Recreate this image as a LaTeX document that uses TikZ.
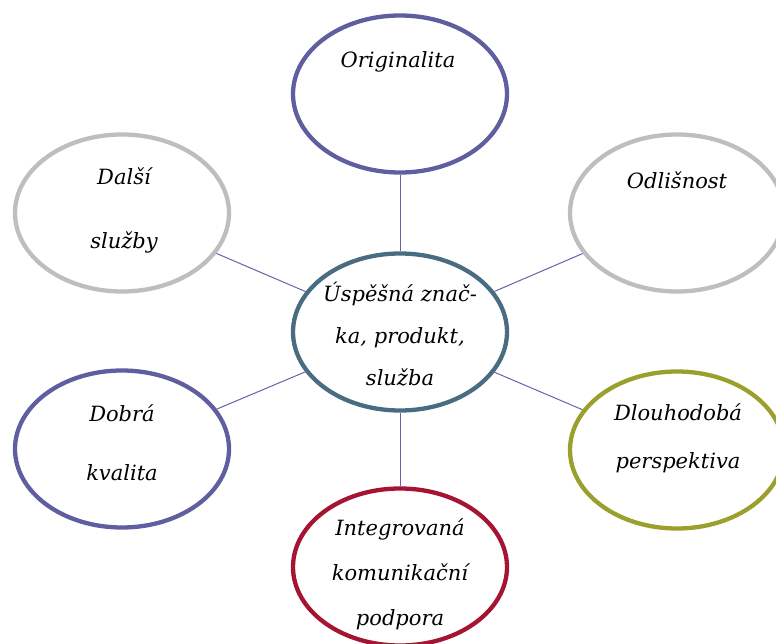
\documentclass[tikz,border=0pt]{standalone}
\usepackage{fontspec}
\setmainfont{DejaVu Serif}
\usetikzlibrary{shapes.geometric}
\definecolor{cpurple}{RGB}{94,94,160}
\definecolor{cslate}{RGB}{74,108,130}
\definecolor{ccrimson}{RGB}{165,20,50}
\definecolor{cgray}{RGB}{190,190,190}
\definecolor{colive}{RGB}{155,160,45}
\definecolor{cline}{RGB}{100,100,170}
\tikzset{
  bubble/.style={ellipse, draw, line width=4.3pt, minimum width=214pt, minimum height=157pt, fill=white},
  lbl/.style={font=\itshape\fontsize{21}{28}\selectfont, align=center, inner sep=0pt},
  link/.style={draw=cline, line width=1pt}
}
\begin{document}
\begin{tikzpicture}[x=1pt,y=-1pt]
\useasboundingbox (0,0) rectangle (776,644);
\node[bubble, draw=cslate] (c) at (400,332) {};
\node[bubble, draw=cpurple] (n1) at (400,94) {};
\node[bubble, draw=cgray] (n2) at (122,213) {};
\node[bubble, draw=cgray] (n3) at (677,213) {};
\node[bubble, draw=cpurple] (n4) at (122,449) {};
\node[bubble, draw=colive] (n5) at (677,450) {};
\node[bubble, draw=ccrimson] (n6) at (400,567) {};
\draw[link] (c) -- (n1);
\draw[link] (c) -- (n2);
\draw[link] (c) -- (n3);
\draw[link] (c) -- (n4);
\draw[link] (c) -- (n5);
\draw[link] (c) -- (n6);
\node[lbl] (t1) at (398,62) {Originalita};
\node[lbl, font=\itshape\fontsize{21}{64}\selectfont] (t2) at (124,210) {Další\\služby};
\node[lbl] (t3) at (677,180) {Odlišnost};
\node[lbl, font=\itshape\fontsize{21}{59}\selectfont] (t4) at (122,443) {Dobrá\\kvalita};
\node[lbl, font=\itshape\fontsize{21}{48}\selectfont] (t5) at (678,438) {Dlouhodobá\\perspektiva};
\node[lbl, font=\itshape\fontsize{21}{42}\selectfont] (t6) at (400,334) {Úspěšná znač-\\ka, produkt,\\služba};
\node[lbl, font=\itshape\fontsize{21}{45}\selectfont] (t7) at (400,574) {Integrovaná\\komunikační\\podpora};
\end{tikzpicture}
\end{document}
